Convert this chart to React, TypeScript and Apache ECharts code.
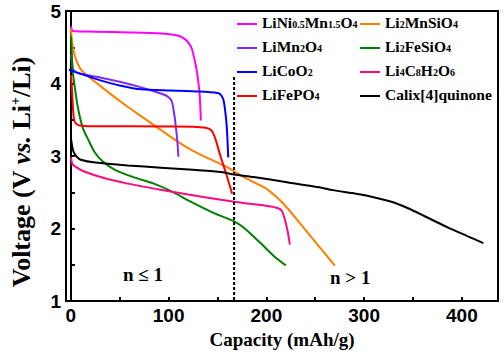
import React, { useEffect, useRef } from "react";
import * as echarts from "echarts";

// ---- data (capacity mAh/g, voltage V) ----
const nameLNMO = "LiNi0.5Mn1.5O4";
const nameLMSO = "Li2MnSiO4";
const nameLMO = "LiMn2O4";
const nameLFSO = "Li2FeSiO4";
const nameLCO = "LiCoO2";
const nameLCHO = "Li4C8H2O6";
const nameLFP = "LiFePO4";
const nameCalix = "Calix[4]quinone";

const lnmoData = [[0, 4.79], [1.5, 4.73], [4, 4.72], [25, 4.715], [60, 4.705], [92, 4.69], [108, 4.665], [116, 4.62], [121, 4.55], [124, 4.47], [127, 4.3], [129, 4.16], [131, 3.95], [132, 3.79], [133, 3.49]];
const lmsoData = [[0, 4.76], [1, 4.6], [2, 4.5], [5, 4.34], [11, 4.18], [25, 4.02], [42, 3.84], [58, 3.68], [75, 3.52], [92, 3.36], [108, 3.21], [125, 3.07], [142, 2.96], [158, 2.86], [167, 2.79], [177, 2.71], [190, 2.62], [201, 2.54], [217, 2.35], [234, 2.08], [251, 1.8], [270, 1.49]];
const lmoData = [[0, 4.4], [1, 4.3], [2, 4.2], [6, 4.15], [15, 4.12], [31, 4.08], [51, 4.02], [71, 3.95], [88, 3.88], [98, 3.83], [103, 3.76], [105.5, 3.6], [107, 3.45], [109, 3.2], [110, 2.99]];
const lfsoData = [[0, 4.65], [1, 4.4], [2, 4.15], [4, 3.95], [6, 3.76], [9, 3.55], [13, 3.36], [18, 3.22], [24, 3.06], [33, 2.92], [45, 2.81], [64, 2.71], [85, 2.62], [105, 2.5], [120, 2.39], [147, 2.21], [167, 2.1], [177, 2.01], [194, 1.8], [207, 1.63], [220, 1.49]];
const lcoData = [[-2, 4.19], [11, 4.13], [31, 4.04], [51, 3.97], [72, 3.92], [102, 3.905], [132, 3.89], [150, 3.87], [153, 3.85], [156, 3.78], [158, 3.61], [159.5, 3.4], [161, 2.98]];
const lchoData = [[0, 2.98], [1.5, 2.89], [5, 2.85], [13, 2.79], [33, 2.7], [58, 2.62], [90, 2.54], [120, 2.47], [167, 2.37], [201, 2.31], [212, 2.28], [216, 2.24], [219, 2.12], [222, 1.95], [224, 1.78]];
const lfpData = [[0, 4.12], [1, 3.95], [2, 3.7], [3, 3.52], [5, 3.45], [9, 3.42], [20, 3.41], [60, 3.41], [125, 3.405], [138, 3.39], [144, 3.35], [148, 3.23], [153, 3.0], [159, 2.75], [165, 2.48]];
const calixData = [[0, 3.25], [1.5, 3.12], [3, 3.05], [6, 2.99], [10, 2.95], [25, 2.91], [58, 2.87], [92, 2.84], [125, 2.81], [154, 2.78], [167, 2.745], [187, 2.71], [221, 2.64], [254, 2.57], [268, 2.53], [288, 2.49], [301, 2.46], [328, 2.37], [345, 2.28], [362, 2.17], [385, 2.02], [405, 1.9], [422, 1.8]];
const dividerData = [[167, 4.09], [167, 1.0]];

const xLabelValues = [0, 100, 200, 300, 400];
const xTickValues = [0, 50, 100, 150, 200, 250, 300, 350, 400];

const legendCol1 = [nameLNMO, nameLMO, nameLCO, nameLFP];
const legendCol2 = [nameLMSO, nameLFSO, nameLCHO, nameCalix];

const legendRich: Record<string, string> = {
  [nameLNMO]: "{m|LiNi}{s|0.5}{m|Mn}{s|1.5}{m|O}{s|4}",
  [nameLMSO]: "{m|Li}{s|2}{m|MnSiO}{s|4}",
  [nameLMO]: "{m|LiMn}{s|2}{m|O}{s|4}",
  [nameLFSO]: "{m|Li}{s|2}{m|FeSiO}{s|4}",
  [nameLCO]: "{m|LiCoO}{s|2}",
  [nameLCHO]: "{m|Li}{s|4}{m|C}{s|8}{m|H}{s|2}{m|O}{s|6}",
  [nameLFP]: "{m|LiFePO}{s|4}",
  [nameCalix]: "{m|Calix[4]quinone}",
};

const SERIF = "Liberation Serif";
const SANS = "Liberation Sans";

export default function App() {
  const ref = useRef<HTMLDivElement>(null);
  useEffect(() => {
    if (!ref.current) return;
    const chart = echarts.init(ref.current, undefined, { renderer: "svg" });
    const mkLine = (name: string, data: number[][], color: string) => ({
      name,
      type: "line",
      data,
      showSymbol: false,
      symbol: "none",
      smooth: 0.25,
      color,
      lineStyle: { color, width: 2 },
      itemStyle: { color },
      silent: true,
    });
    const mkLegend = (data: string[], left: number) => ({
      data,
      left,
      top: 14,
      padding: 0,
      orient: "vertical",
      icon: "rect",
      itemWidth: 20,
      itemHeight: 2,
      itemGap: 8,
      selectedMode: false,
      formatter: (n: string) => legendRich[n] || n,
      textStyle: {
        fontFamily: SERIF,
        fontWeight: "bold",
        fontSize: 15.5,
        color: "#000",
        rich: {
          m: { fontFamily: SERIF, fontWeight: "bold", fontSize: 15.5, color: "#000", padding: [0, 0, 4, 0] },
          s: { fontFamily: SERIF, fontWeight: "bold", fontSize: 10, color: "#000" },
        },
      },
    });
    chart.setOption({
      animation: false,
      backgroundColor: "#fff",
      grid: { left: 58, right: 6, top: 11, bottom: 49, show: true, borderColor: "#000", borderWidth: 2, containLabel: false },
      legend: [mkLegend(legendCol1, 237), mkLegend(legendCol2, 360)],
      xAxis: {
        type: "value",
        min: -5,
        max: 437,
        name: "Capacity (mAh/g)",
        nameLocation: "middle",
        nameGap: 27,
        nameTextStyle: { fontFamily: SERIF, fontWeight: "bold", fontSize: 19, color: "#000" },
        axisLine: { show: true, lineStyle: { color: "#000", width: 2 } },
        axisTick: { show: true, inside: true, length: 4, lineStyle: { color: "#000", width: 2 }, customValues: xTickValues },
        axisLabel: { customValues: xLabelValues, fontFamily: SANS, fontWeight: "bold", fontSize: 19, color: "#000", margin: 5 },
        splitLine: { show: false },
      },
      yAxis: {
        type: "value",
        min: 1,
        max: 5,
        interval: 0.5,
        name: "{m|Voltage (V }{i|vs.}{m| Li}{p|+}{m|/Li)}",
        nameLocation: "middle",
        nameGap: 32,
        nameRotate: 90,
        nameTextStyle: {
          fontFamily: SERIF,
          fontWeight: "bold",
          fontSize: 26,
          color: "#000",
          padding: [0, 32, 0, 0],
          rich: {
            m: { fontFamily: SERIF, fontWeight: "bold", fontSize: 26, color: "#000" },
            i: { fontFamily: SERIF, fontWeight: "bold", fontStyle: "italic", fontSize: 26, color: "#000" },
            p: { fontFamily: SERIF, fontWeight: "bold", fontSize: 14, color: "#000", verticalAlign: "top" },
          },
        },
        axisLine: { show: true, lineStyle: { color: "#000", width: 2 } },
        axisTick: { show: true, inside: true, length: 4, lineStyle: { color: "#000", width: 2 } },
        axisLabel: {
          fontFamily: SANS,
          fontWeight: "bold",
          fontSize: 19,
          color: "#000",
          margin: 5,
          formatter: (v: number) => (Number.isInteger(v) ? String(v) : ""),
        },
        splitLine: { show: false },
      },
      graphic: [
        { type: "text", left: 123, top: 265, style: { text: "n ≤ 1", font: `bold 19px ${SERIF}`, fill: "#000" } },
        { type: "text", left: 330, top: 268, style: { text: "n > 1", font: `bold 19px ${SERIF}`, fill: "#000" } },
      ],
      series: [
        mkLine(nameLNMO, lnmoData, "#ff00ff"),
        mkLine(nameLMSO, lmsoData, "#ff7f00"),
        mkLine(nameLMO, lmoData, "#7f2bff"),
        mkLine(nameLFSO, lfsoData, "#007f00"),
        mkLine(nameLCO, lcoData, "#0000ff"),
        mkLine(nameLCHO, lchoData, "#ff0a80"),
        mkLine(nameLFP, lfpData, "#ff0000"),
        mkLine(nameCalix, calixData, "#000000"),
        {
          name: "divider",
          type: "line",
          data: dividerData,
          showSymbol: false,
          symbol: "none",
          silent: true,
          lineStyle: { color: "#000", width: 2, type: [3, 2] },
        },
      ],
    });
    return () => chart.dispose();
  }, []);
  return (
    <div
      ref={ref}
      style={{ position: "fixed", left: 0, top: 0, width: 504, height: 354, background: "#fff" }}
    />
  );
}
